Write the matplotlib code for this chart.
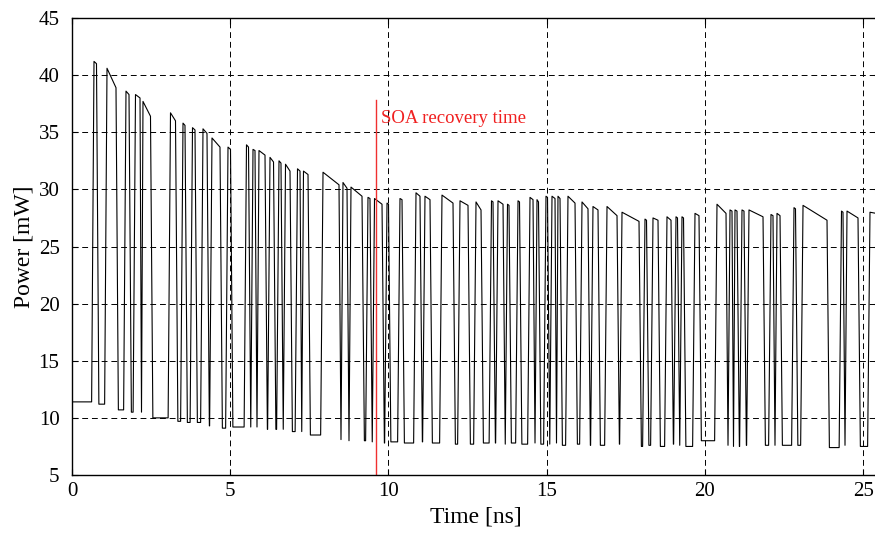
import matplotlib
matplotlib.use("Agg")
import matplotlib.pyplot as plt

# SOA output power for a random bit pattern
idle_power = 11.4          # mW, before the first bit
pulse_on = [0.695, 1.106, 1.706, 2.006, 2.243, 3.112, 3.507, 3.807, 4.139, 4.423,
            4.929, 5.513, 5.719, 5.908, 6.256, 6.540, 6.746, 7.125, 7.314, 7.931,
            8.562, 8.815, 9.352, 9.558, 9.953, 10.363, 10.869, 11.153, 11.690, 12.259,
            12.765, 13.254, 13.460, 13.760, 14.092, 14.471, 14.692, 14.976, 15.166, 15.355,
            15.671, 16.114, 16.461, 16.904, 17.378, 18.104, 18.357, 18.799, 19.084, 19.273,
            19.684, 20.379, 20.790, 20.948, 21.169, 21.390, 22.085, 22.275, 22.812, 23.097,
            24.313, 24.487, 25.213]
pulse_off = [0.774, 1.390, 1.801, 2.149, 2.480, 3.270, 3.570, 3.886, 4.265, 4.676,
             5.008, 5.577, 5.782, 6.098, 6.367, 6.603, 6.888, 7.204, 7.457, 8.436,
             8.689, 9.163, 9.415, 9.795, 10.000, 10.427, 10.995, 11.311, 12.038, 12.512,
             12.923, 13.302, 13.618, 13.807, 14.139, 14.566, 14.739, 15.024, 15.261, 15.419,
             15.893, 16.303, 16.619, 17.220, 17.915, 18.152, 18.515, 18.926, 19.131, 19.321,
             19.810, 20.664, 20.853, 21.011, 21.232, 21.833, 22.148, 22.370, 22.859, 23.855,
             24.360, 24.834, 25.600]
top_start = [41.2, 40.6, 38.6, 38.3, 37.7, 36.7, 35.8, 35.4, 35.3, 34.5,
             33.7, 33.9, 33.5, 33.4, 32.8, 32.5, 32.2, 31.8, 31.6, 31.5,
             30.6, 30.2, 29.3, 29.2, 28.8, 29.2, 29.7, 29.4, 29.5, 29.0,
             28.9, 29.0, 29.0, 28.7, 29.0, 29.3, 29.1, 29.4, 29.4, 29.4,
             29.4, 28.9, 28.5, 28.5, 28.0, 27.4, 27.5, 27.6, 27.6, 27.6,
             27.9, 28.7, 28.2, 28.2, 28.2, 28.2, 27.8, 27.9, 28.4, 28.6,
             28.1, 28.1, 28.0]
top_end = [41.0, 38.9, 38.3, 38.0, 36.4, 36.0, 35.6, 35.2, 34.9, 33.7,
           33.5, 33.7, 33.4, 33.0, 32.4, 32.3, 31.6, 31.6, 31.3, 30.4,
           30.1, 29.4, 29.2, 28.7, 28.7, 29.1, 29.4, 29.1, 28.8, 28.6,
           28.2, 28.9, 28.7, 28.6, 28.9, 29.1, 28.9, 29.3, 29.2, 29.2,
           28.8, 28.3, 28.2, 27.7, 27.2, 27.3, 27.3, 27.3, 27.5, 27.5,
           27.7, 27.9, 28.1, 28.1, 28.1, 27.6, 27.7, 27.7, 28.3, 27.3,
           28.0, 27.5, 27.8]
low_after = [11.2, 10.7, 10.5, 10.5, 10.0, 9.7, 9.6, 9.6, 9.3, 9.1,
             9.2, 9.2, 9.2, 9.0, 9.0, 9.0, 8.8, 8.8, 8.5, 8.1,
             8.0, 8.0, 7.9, 7.8, 7.9, 7.8, 7.9, 7.8, 7.7, 7.7,
             7.8, 7.8, 7.7, 7.8, 7.7, 7.8, 7.7, 7.7, 7.8, 7.6,
             7.7, 7.6, 7.6, 7.7, 7.5, 7.6, 7.5, 7.7, 7.6, 7.5,
             8.0, 7.6, 7.5, 7.5, 7.6, 7.6, 7.6, 7.6, 7.6, 7.4,
             7.6, 7.5, 7.5]

recovery_time = 9.6        # ns
recovery_top = 37.8        # mW, top of the marker line
edge = 0.075               # ns, rise/fall time of each bit

x_ticks = [0, 5, 10, 15, 20, 25]
y_ticks = [5, 10, 15, 20, 25, 30, 35, 40, 45]

# assemble the trace
t = [0.0]
p = [idle_power]
for on, off, hi0, hi1, lo in zip(pulse_on, pulse_off, top_start, top_end, low_after, strict=True):
    start = on - edge
    if start <= t[-1]:
        t[-1] = 0.5 * (t[-2] + on)
    else:
        t.append(start)
        p.append(p[-1])
    t += [on, off, off + edge]
    p += [hi0, hi1, lo]
t.append(26.0)
p.append(p[-1])

serif = "Liberation Serif"
fig = plt.figure(figsize=(8.75, 5.34), dpi=100)
x_span = 808 / 31.65
ax = fig.add_axes([72 / 875, 59 / 534, 808 / 875, 457 / 534])

ax.plot(t, p, color="black", lw=0.8)
ax.plot([recovery_time, recovery_time], [5, recovery_top], color="#f03030", lw=1.0)
ax.text(recovery_time + 0.16, 36.2, "SOA recovery time", color="#f02020",
        fontsize=13.5, family=serif, va="center", ha="left")

ax.set_xlim(0, x_span)
ax.set_ylim(5, 45)
ax.set_xticks(x_ticks)
ax.set_yticks(y_ticks)
ax.set_xticklabels([str(v) for v in x_ticks], family=serif, fontsize=15)
ax.set_yticklabels([str(v) for v in y_ticks], family=serif, fontsize=15)
ax.tick_params(direction="in", length=4, width=0.8, top=True, right=True)
ax.tick_params(axis="y", pad=9)
ax.tick_params(axis="x", pad=5)
ax.grid(True, color="black", lw=0.7, linestyle=(0, (6, 4)))
for s in ax.spines.values():
    s.set_linewidth(1.0)

ax.set_xlabel("Time [ns]", family=serif, fontsize=17, labelpad=4)
ax.set_ylabel("Power [mW]", family=serif, fontsize=17, labelpad=3)

fig.savefig("out.png", dpi=100)
